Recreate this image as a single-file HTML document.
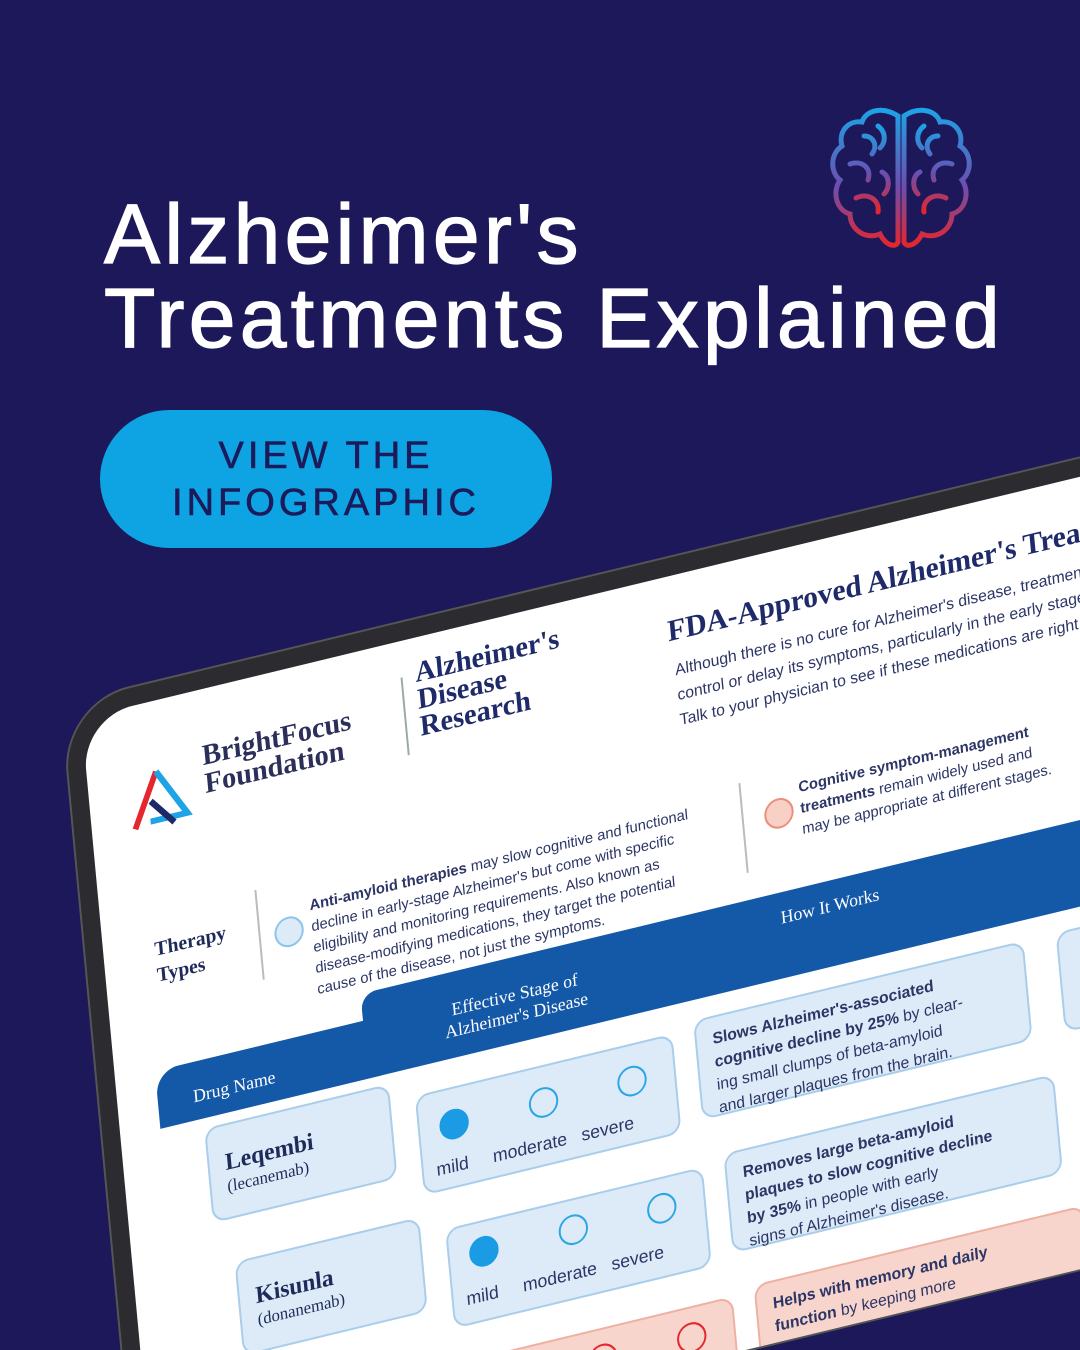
<!DOCTYPE html>
<html style="width:1080px;height:1350px;overflow:hidden"><head><meta charset="utf-8"><style>
*{margin:0;padding:0;box-sizing:border-box}
html,body{width:1080px;height:1350px;overflow:hidden}
body{background:#1c1859;font-family:"Liberation Sans",sans-serif;position:relative}
#clip{position:absolute;left:0;top:0;width:1080px;height:1350px;overflow:hidden}
.t{position:absolute;left:104px;color:#fff;font-size:84px;-webkit-text-stroke:1.3px #fff;letter-spacing:4.3px;line-height:1;white-space:nowrap}
.btn{position:absolute;left:100px;top:410px;width:452px;height:138px;border-radius:69px;background:#0ea3e2;color:#1c1a5a;text-align:center;font-size:38px;letter-spacing:4px;line-height:47px;padding-top:23px;-webkit-text-stroke:.6px #1c1a5a}
.tab{position:absolute;left:60px;top:703px;width:1250px;height:800px;transform-origin:0 0;transform:matrix(0.972,-0.235,0.093,0.996,0,0);background:#2b2b30;border-radius:70px;border:2px solid #555}
.scr{position:absolute;left:18px;top:18px;right:0;bottom:0;background:#fff;border-radius:52px 0 0 0;overflow:hidden;font-family:"Liberation Serif",serif;color:#1e2a5a}
.a{position:absolute}
.bx{position:absolute;background:#dcebf7;border:2px solid #a9cdea;border-radius:14px}
.sx{position:absolute;background:#f8d5cc;border:2px solid #eeb0a2;border-radius:14px}
.c{position:absolute;width:30px;height:30px;border-radius:50%;border:2px solid #2aa6e6}
.f{background:#1a9be4;border-color:#1a9be4}
.sm{font-family:"Liberation Sans",sans-serif;font-size:15px;color:#2c3566;line-height:21px}
.rows{position:absolute;left:-15px;top:-8px;width:1300px;height:900px}
</style></head><body><div id="clip">
<div class="t" style="top:192px">Alzheimer's</div>
<div class="t" style="top:276px">Treatments Explained</div>
<div class="btn">VIEW THE<br>INFOGRAPHIC</div>
<svg class="a" style="left:828px;top:106px" width="146" height="148" viewBox="0 0 146 148">
<defs><linearGradient id="g" x1="0" y1="0" x2="0" y2="1"><stop offset="0" stop-color="#1da3e6"/><stop offset=".55" stop-color="#6a4fb0"/><stop offset="1" stop-color="#e5262d"/></linearGradient></defs>
<g fill="none" stroke="url(#g)" stroke-width="5" stroke-linecap="round">
<path d="M70 10 C55 0 38 4 34 16 C20 14 10 26 14 40 C2 48 2 66 12 74 C4 86 8 104 22 108 C22 124 38 134 52 128 C58 140 68 142 70 136 Z"/>
<path d="M76 10 C91 0 108 4 112 16 C126 14 136 26 132 40 C144 48 144 66 134 74 C142 86 138 104 124 108 C124 124 108 134 94 128 C88 140 78 142 76 136 Z"/>
<path d="M36 30 C46 30 50 40 44 48 M22 58 C34 54 44 62 40 74 M28 92 C40 86 52 94 50 106 M54 66 C62 70 62 82 56 88 M50 20 C58 26 58 36 52 42"/>
<path d="M110 30 C100 30 96 40 102 48 M124 58 C112 54 102 62 106 74 M118 92 C106 86 94 94 96 106 M92 66 C84 70 84 82 90 88 M96 20 C88 26 88 36 94 42"/>
</g></svg>
<div class="tab"><div class="scr">
<svg class="a" style="left:40px;top:62px" width="80" height="70"><g fill="none" stroke-width="6"><path d="M30 8 L4 60" stroke="#e5262d"/><path d="M30 8 L58 56 L20 56" stroke="#1da3e6"/><path d="M22 36 L44 62" stroke="#1c2a6a"/></g></svg>
<div class="a" style="left:118px;top:52px;font-size:29px;font-weight:bold;line-height:28px;color:#2c2f5a">BrightFocus<br>Foundation</div>
<div class="a" style="left:325px;top:36px;width:2px;height:78px;background:#9aa"></div>
<div class="a" style="left:340px;top:22px;font-size:29px;font-weight:bold;line-height:27px;color:#1e2a6a">Alzheimer's<br>Disease<br>Research</div>
<div class="a" style="left:598px;top:38px;font-size:30px;font-weight:bold;color:#1e2a6a;white-space:nowrap">FDA-Approved Alzheimer's Treatments</div>
<div class="a sm" style="left:602px;top:82px;font-size:16px;line-height:25px;white-space:nowrap">Although there is no cure for Alzheimer's disease, treatments can<br>control or delay its symptoms, particularly in the early stages.<br>Talk to your physician to see if these medications are right for you.</div>
<div class="a" style="left:52px;top:232px;font-size:20px;font-weight:bold;line-height:26px">Therapy<br>Types</div>
<div class="a" style="left:158px;top:210px;width:2px;height:90px;background:#bbb"></div>
<div class="c" style="left:174px;top:244px;border-color:#8cc4ea;background:#dcebf7"></div>
<div class="a sm" style="left:212px;top:228px;white-space:nowrap"><b>Anti-amyloid therapies</b> may slow cognitive and functional<br>decline in early-stage Alzheimer's but come with specific<br>eligibility and monitoring requirements. Also known as<br>disease-modifying medications, they target the potential<br>cause of the disease, not just the symptoms.</div>
<div class="a" style="left:655px;top:220px;width:2px;height:90px;background:#bbb"></div>
<div class="c" style="left:678px;top:244px;border-color:#eb8f7c;background:#f8d0c5"></div>
<div class="a sm" style="left:715px;top:228px;white-space:nowrap"><b>Cognitive symptom-management<br>treatments</b> remain widely used and<br>may be appropriate at different stages.</div>
<div class="rows">
<div class="a" style="left:56px;top:372px;width:1300px;height:58px;background:#1458a8;border-radius:24px 0 0 0"></div>
<div class="a" style="left:270px;top:345px;width:1100px;height:40px;background:#1458a8;border-radius:16px 16px 0 0"></div>
<div class="a" style="left:92px;top:396px;color:#fff;font-size:18px">Drug Name</div>
<div class="a" style="left:300px;top:372px;color:#fff;font-size:18px;text-align:center;width:250px;line-height:21px">Effective Stage of<br>Alzheimer's Disease</div>
<div class="a" style="left:700px;top:360px;color:#fff;font-size:18px">How It Works</div>
<div class="bx" style="left:100px;top:440px;width:190px;height:95px"></div>
<div class="a" style="left:118px;top:466px;font-size:24px;font-weight:bold">Leqembi<div style="font-size:17px;font-weight:normal">(lecanemab)</div></div>
<div class="bx" style="left:315px;top:458px;width:265px;height:100px"></div>
<div class="c f" style="left:337px;top:480px"></div><div class="c" style="left:429px;top:480px"></div><div class="c" style="left:520px;top:480px"></div>
<div class="a sm" style="left:330px;top:526px;font-size:18px">mild &nbsp;&nbsp;&nbsp;&nbsp;moderate &nbsp;&nbsp;severe</div>
<div class="bx" style="left:602px;top:450px;width:340px;height:100px"></div>
<div class="a sm" style="left:620px;top:462px;font-size:16px;white-space:nowrap;line-height:23px"><b>Slows Alzheimer's-associated<br>cognitive decline by 25%</b> by clear-<br>ing small clumps of beta-amyloid<br>and larger plaques from the brain.</div>
<div class="bx" style="left:118px;top:578px;width:190px;height:95px"></div>
<div class="a" style="left:136px;top:604px;font-size:24px;font-weight:bold">Kisunla<div style="font-size:17px;font-weight:normal">(donanemab)</div></div>
<div class="bx" style="left:333px;top:596px;width:265px;height:100px"></div>
<div class="c f" style="left:355px;top:612px"></div><div class="c" style="left:447px;top:612px"></div><div class="c" style="left:538px;top:612px"></div>
<div class="a sm" style="left:348px;top:660px;font-size:18px">mild &nbsp;&nbsp;&nbsp;&nbsp;moderate &nbsp;&nbsp;severe</div>
<div class="bx" style="left:620px;top:588px;width:340px;height:100px"></div>
<div class="a sm" style="left:638px;top:600px;font-size:16px;white-space:nowrap;line-height:23px"><b>Removes large beta-amyloid<br>plaques to slow cognitive decline<br>by 35%</b> in people with early<br>signs of Alzheimer's disease.</div>
<div class="sx" style="left:351px;top:730px;width:265px;height:100px"></div>
<div class="c f" style="left:373px;top:746px;background:#e5262d;border-color:#e5262d"></div><div class="c" style="left:465px;top:746px;border-color:#e5262d"></div><div class="c" style="left:556px;top:746px;border-color:#e5262d"></div>
<div class="sx" style="left:638px;top:724px;width:340px;height:100px"></div>
<div class="a sm" style="left:656px;top:736px;font-size:16px;white-space:nowrap;line-height:23px"><b>Helps with memory and daily<br>function</b> by keeping more<br>acetylcholine in the brain<br>(similar to Aricept).</div>
<div class="bx" style="left:975px;top:450px;width:200px;height:100px"></div>
<div class="bx" style="left:993px;top:588px;width:200px;height:100px"></div>
</div>
</div></div>
</div></body></html>
